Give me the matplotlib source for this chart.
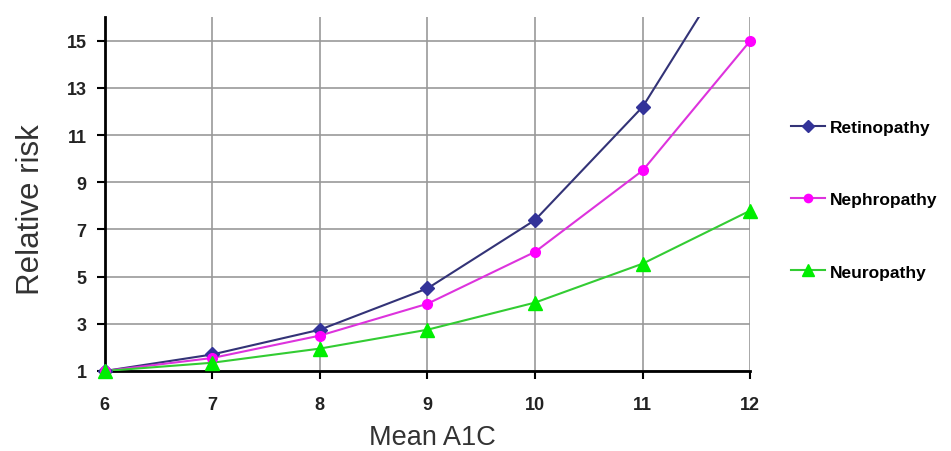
import numpy as np
import matplotlib
matplotlib.use("Agg")
import matplotlib.pyplot as plt

plt.rcParams['font.family'] = ['Liberation Sans', 'DejaVu Sans']

# ===================== data =====================
mean_a1c = [6, 7, 8, 9, 10, 11, 12]
retinopathy = [1.0, 1.7, 2.75, 4.5, 7.4, 12.2, 19.5]
nephropathy = [1.0, 1.55, 2.5, 3.85, 6.05, 9.5, 15.0]
neuropathy = [1.0, 1.35, 1.95, 2.75, 3.9, 5.55, 7.8]
y_ticks = [1, 3, 5, 7, 9, 11, 13, 15]

SERIES = [
    ('Retinopathy', retinopathy, '#333377', '#333399', 'D', 7),
    ('Nephropathy', nephropathy, '#dd33dd', '#ff00ff', 'o', 7),
    ('Neuropathy', neuropathy, '#33cc33', '#00ee00', '^', 10),
]
Y_MAX = 16

fig = plt.figure(figsize=(9.51, 4.52), dpi=100)
ax = fig.add_axes([0.110, 0.177, 0.679, 0.783])

handles = []
for label, vals, lc, mc, mk, ms in SERIES:
    x = np.array(mean_a1c, dtype=float)
    y = np.array(vals, dtype=float)
    ax.plot(x, y, color=lc, linewidth=1.5, zorder=3)
    keep = y <= Y_MAX
    ax.plot(x[keep], y[keep], linestyle='none', marker=mk, markersize=ms,
            markerfacecolor=mc, markeredgecolor=mc, clip_on=False, zorder=4)
    h, = ax.plot([], [], color=lc, linewidth=1.5, marker=mk, markersize=ms * 0.85,
                 markerfacecolor=mc, markeredgecolor=mc)
    handles.append((h, label))

ax.set_xlim(6, 12)
ax.set_ylim(1, Y_MAX)
ax.set_xticks(mean_a1c)
ax.set_yticks(y_ticks)
ax.grid(True, color='#999999', linewidth=1.2)
ax.set_axisbelow(True)
for s in ['top', 'right']:
    ax.spines[s].set_visible(False)
for s in ['left', 'bottom']:
    ax.spines[s].set_linewidth(2)
    ax.spines[s].set_color('black')
ax.tick_params(axis='both', direction='out', length=6, width=1.5, labelsize=13)
ax.tick_params(axis='x', pad=12)
ax.tick_params(axis='y', pad=7)
for t in ax.get_xticklabels() + ax.get_yticklabels():
    t.set_fontweight('bold')
    t.set_color('#222222')

ax.set_xlabel('Mean A1C', fontsize=19.5, color='#333333')
ax.xaxis.set_label_coords(0.5075, -0.15)
ax.set_ylabel('Relative risk', fontsize=22.5, color='#333333')
ax.yaxis.set_label_coords(-0.090, 0.458)

leg = fig.legend([h for h, _ in handles], [l for _, l in handles],
                 loc='upper left', bbox_to_anchor=(0.815, 0.768),
                 frameon=False, labelspacing=3.3, handlelength=2.0,
                 handletextpad=0.25,
                 prop={'size': 12.5, 'weight': 'bold'})

fig.savefig('out.png', dpi=100)
